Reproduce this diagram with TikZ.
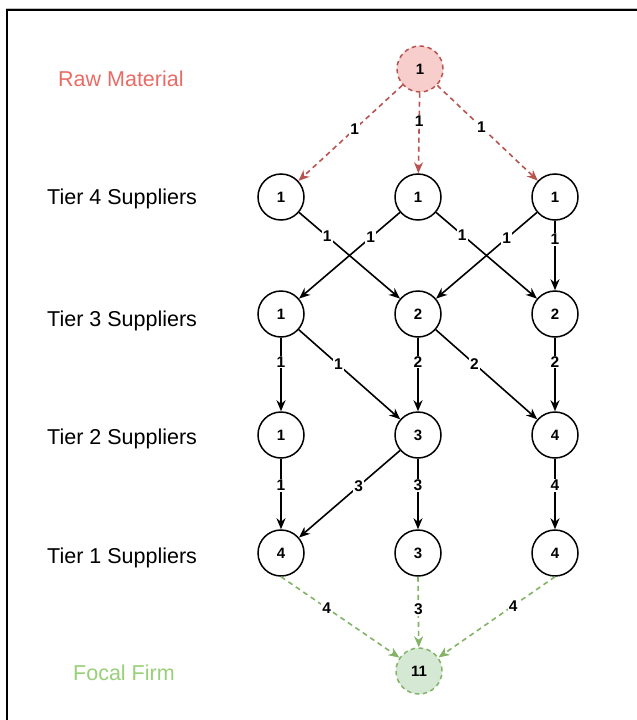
\documentclass[tikz,border=0pt]{standalone}
\usepackage{fontspec}
\setmainfont{Liberation Sans}
\usetikzlibrary{arrows.meta}
\definecolor{rawfill}{HTML}{F8CECC}
\definecolor{rawline}{HTML}{B85450}
\definecolor{rawtext}{HTML}{EA6B66}
\definecolor{firmfill}{HTML}{D5E8D4}
\definecolor{firmline}{HTML}{82B366}
\definecolor{firmtext}{HTML}{97D077}
\tikzset{
  sup/.style={circle, draw=black, line width=1.5pt, minimum size=46pt, inner sep=0pt, fill=white,
    font=\fontsize{15}{17}\selectfont\bfseries},
  rawnode/.style={sup, draw=rawline, fill=rawfill, dash pattern=on 4.5pt off 3.5pt, line width=1.5pt},
  firmnode/.style={sup, draw=firmline, fill=firmfill, dash pattern=on 4.5pt off 3.5pt, line width=1.5pt},
  flow/.style={line width=1.6pt, -{Stealth[length=11pt,width=9pt,inset=3.5pt]}},
  rawflow/.style={flow, draw=rawline, dash pattern=on 5pt off 4pt, -{Stealth[length=11pt,width=9pt,inset=3.5pt,fill=rawline]}},
  firmflow/.style={flow, draw=firmline, dash pattern=on 5pt off 4pt, -{Stealth[length=11pt,width=9pt,inset=3.5pt,fill=firmline]}},
  lab/.style={fill=white, inner sep=1pt, font=\fontsize{15.5}{17}\selectfont\bfseries, text=black},
  tier/.style={anchor=west, font=\fontsize{21.5}{24}\selectfont, inner sep=0pt},
}
\begin{document}
\begin{tikzpicture}[x=1pt,y=-1pt]
\useasboundingbox (0,0) rectangle (637,720);
\draw[black!25, line width=1pt] (6,8) -- (637,8);
\draw[black, line width=2pt] (7,720) -- (7,10) -- (637,10);

% row labels
\node[tier, text=rawtext] (lraw) at (58,79) {Raw Material};
\node[tier] (l4) at (47,199) {Tier 4 Suppliers};
\node[tier] (l3) at (47,321) {Tier 3 Suppliers};
\node[tier] (l2) at (47,439) {Tier 2 Suppliers};
\node[tier] (l1) at (47,558) {Tier 1 Suppliers};
\node[tier, text=firmtext] (lfirm) at (73,673) {Focal Firm};

% nodes
\node[rawnode] (R) at (420,69) {1};
\node[sup] (A4) at (281,197) {1};
\node[sup] (B4) at (418,197) {1};
\node[sup] (C4) at (555,197) {1};
\node[sup] (A3) at (281,314) {1};
\node[sup] (B3) at (418,314) {2};
\node[sup] (C3) at (555,314) {2};
\node[sup] (A2) at (281,435) {1};
\node[sup] (B2) at (418,435) {3};
\node[sup] (C2) at (555,435) {4};
\node[sup] (A1) at (281,553) {4};
\node[sup] (B1) at (418,553) {3};
\node[sup] (C1) at (555,553) {4};
\node[firmnode] (F) at (419,671) {11};

% raw -> tier 4
\draw[rawflow] (R) -- node[lab, pos=0.46] {1} (A4);
\draw[rawflow] (R) -- node[lab, pos=0.35] {1} (B4);
\draw[rawflow] (R) -- node[lab, pos=0.44] {1} (C4);

% tier 4 -> tier 3
\draw[flow] (A4) -- node[lab, pos=0.28] {1} (B3);
\draw[flow] (B4) -- node[lab, pos=0.29] {1} (A3);
\draw[flow] (B4) -- node[lab, pos=0.26] {1} (C3);
\draw[flow] (C4) -- node[lab, pos=0.30] {1} (B3);
\draw[flow] (C4) -- node[lab, pos=0.27] {1} (C3);

% tier 3 -> tier 2
\draw[flow] (A3) -- node[lab, pos=0.33] {1} (A2);
\draw[flow] (A3) -- node[lab, pos=0.39] {1} (B2);
\draw[flow] (B3) -- node[lab, pos=0.33] {2} (B2);
\draw[flow] (B3) -- node[lab, pos=0.38] {2} (C2);
\draw[flow] (C3) -- node[lab, pos=0.33] {2} (C2);

% tier 2 -> tier 1
\draw[flow] (A2) -- node[lab, pos=0.375] {1} (A1);
\draw[flow] (B2) -- node[lab, pos=0.41] {3} (A1);
\draw[flow] (B2) -- node[lab, pos=0.375] {3} (B1);
\draw[flow] (C2) -- node[lab, pos=0.375] {4} (C1);

% tier 1 -> focal firm
\draw[firmflow] (A1.south) -- node[lab, pos=0.385] {4} (F);
\draw[firmflow] (B1.south) -- node[lab, pos=0.46] {3} (F);
\draw[firmflow] (C1.south) -- node[lab, pos=0.36] {4} (F);
\end{tikzpicture}
\end{document}
